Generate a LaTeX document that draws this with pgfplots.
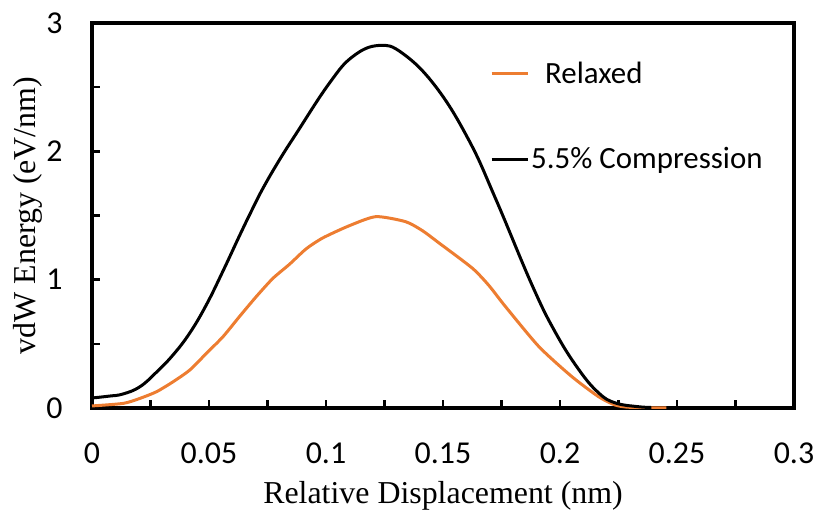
\documentclass[border=0pt]{standalone}
\usepackage{fontspec}
\setmainfont{Liberation Serif}
\newfontfamily\calib{Carlito}
\usepackage{pgfplots}
\pgfplotsset{compat=1.18}
\definecolor{exorange}{HTML}{ED7D31}

\begin{document}
\begin{tikzpicture}
\begin{axis}[
  at={(0,0)}, anchor=south west,
  scale only axis,
  width=702bp, height=385bp,
  xmin=0, xmax=0.3, ymin=0, ymax=3,
  xtick={0,0.05,0.1,0.15,0.2,0.25,0.3},
  xticklabels={0,0.05,0.1,0.15,0.2,0.25,0.3},
  ytick={0,1,2,3},
  yticklabels={0,1,2,3},
  minor x tick num=1, minor y tick num=1,
  tick align=inside,
  xtick pos=left, ytick pos=left,
  major tick length=8bp, minor tick length=8bp,
  every tick/.style={black, line width=2.6bp},
  axis line style={line width=3.6bp},
  /pgf/number format/assume math mode=true,
  tick label style={font=\calib\fontsize{32}{38}\selectfont},
  xticklabel style={yshift=-31bp},
  yticklabel style={xshift=-26bp},
  xlabel={Relative Displacement (nm)},
  ylabel={vdW Energy (eV/nm)},
  label style={font=\fontsize{32}{38}\selectfont},
  xlabel style={at={(axis description cs:0.5,0)}, anchor=base, yshift=-95bp},
  ylabel style={at={(axis description cs:-0.081,0.5)}, anchor=base},
  legend style={
    at={(rel axis cs:0.567,0.905)}, anchor=north west,
    draw=none, fill=none,
    font=\calib\fontsize{31}{37}\selectfont,
    row sep=59bp,
    inner sep=0pt,
    nodes={inner sep=2bp},
  },
  legend cell align=left,
  legend image code/.code={\draw[#1] (0bp,0bp) -- (36bp,0bp);},
]
% relaxed structure
\addplot[exorange, line width=3bp, smooth, tension=0.4] coordinates {
  (0,0.016) (0.0134,0.036) (0.0205,0.075) (0.0276,0.127) (0.0347,0.205)
  (0.0418,0.296) (0.0489,0.426) (0.056,0.556) (0.063,0.712) (0.0702,0.868)
  (0.0773,1.01) (0.0844,1.12) (0.0915,1.24) (0.0986,1.325) (0.1099,1.42)
  (0.1213,1.491) (0.134,1.452) (0.1412,1.382) (0.148,1.29) (0.1625,1.09)
  (0.1696,0.955) (0.1767,0.79) (0.191,0.478) (0.2051,0.244) (0.2165,0.088)
  (0.2236,0.023) (0.23,0.005) (0.2455,0.0)
};
\addlegendentry{\hspace{14bp}Relaxed}
% 5.5% compressed structure
\addplot[black, line width=3bp, smooth, tension=0.7] coordinates {
  (0,0.078) (0.007,0.092) (0.0132,0.109) (0.0205,0.166) (0.0276,0.28)
  (0.0347,0.415) (0.0418,0.585) (0.0489,0.805) (0.056,1.068) (0.063,1.341)
  (0.068,1.53) (0.073,1.71) (0.08,1.93) (0.0872,2.136) (0.1014,2.53)
  (0.1114,2.738) (0.1225,2.825)
  (0.1327,2.764) (0.1469,2.504) (0.161,2.089) (0.1725,1.63) (0.188,0.96)
  (0.198,0.59) (0.208,0.30) (0.2165,0.118) (0.2236,0.04)
  (0.2335,0.01) (0.239,0.005)
};
\addlegendentry{5.5\% Compression}
\end{axis}
\pgfresetboundingbox
\path (-92bp,-102bp) rectangle (725bp,408bp);
\end{tikzpicture}
\end{document}
